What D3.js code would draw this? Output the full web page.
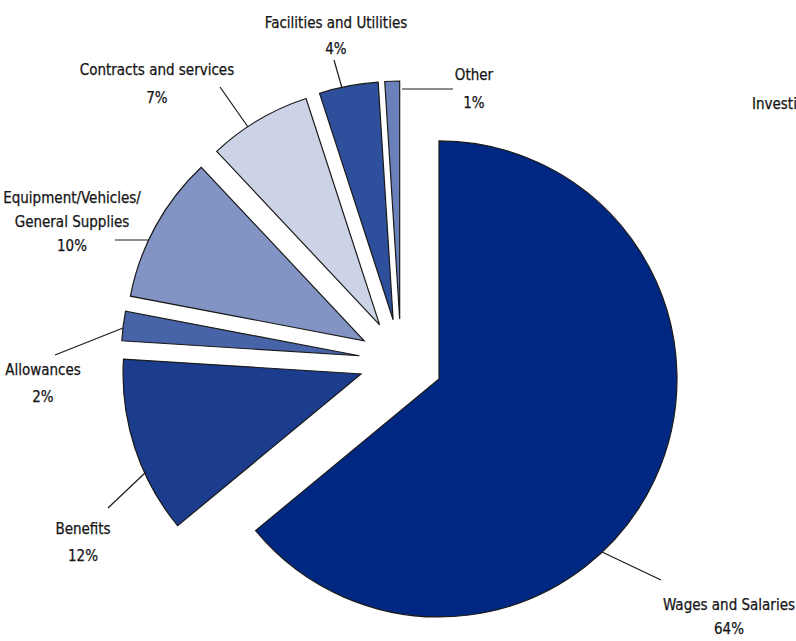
<!DOCTYPE html>
<html>
<head>
<meta charset="utf-8">
<script src="https://cdn.jsdelivr.net/npm/d3@7"></script>
<style>
  html, body { margin: 0; padding: 0; background: #fff; }
  svg { display: block; }
  text { font-family: "Liberation Sans Narrow", "DejaVu Sans Condensed", "Roboto Condensed", sans-serif; fill: #151515; font-size: 15px; stroke: #151515; stroke-width: 0.25px; }
</style>
</head>
<body>
<svg id="chart" width="796" height="641"></svg>
<script>
const categories = ["Wages and Salaries", "Benefits", "Allowances", "Equipment/Vehicles/General Supplies", "Contracts and services", "Facilities and Utilities", "Other"];
const values = [64, 12, 2, 10, 7, 4, 1];
const labelLines = [["Wages and Salaries", "64%"], ["Benefits", "12%"], ["Allowances", "2%"], ["Equipment/Vehicles/", "General Supplies", "10%"], ["Contracts and services", "7%"], ["Facilities and Utilities", "4%"], ["Other", "1%"]];
const colors = ["#002882", "#1c3c8e", "#4864a8", "#8194c3", "#cdd3e6", "#2e4f9c", "#6a80bb"];

// layout (not data)
const cx = 401, cy = 361, R = 238, explode = 42;
const labelPos = [[729, 610], [83, 534], [43, 375], [72, 203], [157, 75], [336, 28], [474, 80]];
const lineHeights = [24, 27, 27, 24, 28, 26, 28];
const leaders = [[[602,552],[661,580]], [[108,508],[146,472]], [[55,355],[123,328]], [[115,240],[148,240]], [[220,87],[248,127]], [[334,60],[342,88]], [[402,89],[453,89]]];

const svg = d3.select("#chart");
const pie = d3.pie().sort(null).value(d => d).startAngle(0).endAngle(2 * Math.PI);
const arcs = pie(values);
const arc = d3.arc().innerRadius(0).outerRadius(R);

const g = svg.append("g").attr("transform", `translate(${cx},${cy})`);
g.selectAll("path").data(arcs).enter().append("path")
  .attr("d", arc)
  .attr("fill", (d, i) => colors[i])
  .attr("stroke", "#1a1a1a")
  .attr("stroke-width", 1.2)
  .attr("stroke-linejoin", "miter")
  .attr("transform", d => {
    const m = (d.startAngle + d.endAngle) / 2;
    return `translate(${explode * Math.sin(m)},${-explode * Math.cos(m)})`;
  });

svg.selectAll("line.leader").data(leaders).enter().append("line")
  .attr("class", "leader")
  .attr("x1", d => d[0][0]).attr("y1", d => d[0][1])
  .attr("x2", d => d[1][0]).attr("y2", d => d[1][1])
  .attr("stroke", "#1a1a1a").attr("stroke-width", 1.2);

labelLines.forEach((lines, i) => {
  const t = svg.append("text").attr("text-anchor", "middle")
    .attr("x", labelPos[i][0]).attr("y", labelPos[i][1]);
  lines.forEach((s, j) => {
    t.append("tspan").attr("x", labelPos[i][0]).attr("dy", j === 0 ? 0 : lineHeights[i]).text(s);
  });
});

// label of a slice outside the frame, cut by the right edge as in the reference
svg.append("text").attr("x", 752).attr("y", 109).text("Investigations");
</script>
</body>
</html>
